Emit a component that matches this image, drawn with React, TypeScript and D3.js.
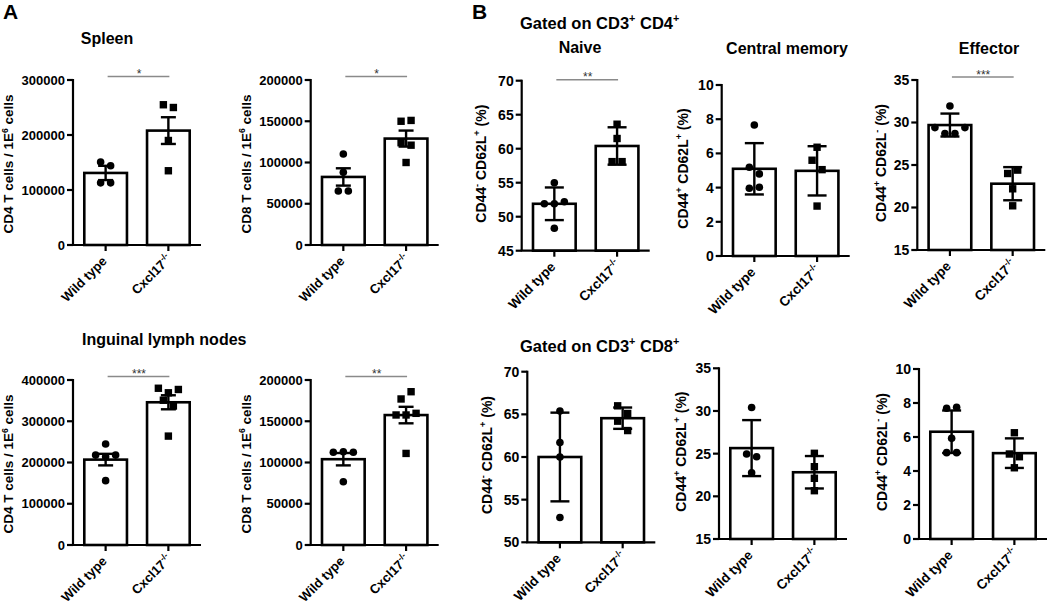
import React from "react";
import * as d3 from "d3";

// ---------- data ----------
const groups = ["Wild type", "Cxcl17"];

// Panel A – Spleen
const spleenCD4WT = [151000, 144000, 113000, 113000];
const spleenCD4KO = [255000, 250000, 190000, 135000];
const spleenCD4Mean = [131000, 208000];
const spleenCD4Err = [13000, 24300];
const spleenCD4Ticks = [0, 100000, 200000, 300000];

const spleenCD8WT = [110300, 88100, 65500, 65500];
const spleenCD8KO = [150000, 151000, 124000, 121000, 100000];
const spleenCD8Mean = [82500, 129000];
const spleenCD8Err = [10500, 9700];
const spleenCD8Ticks = [0, 50000, 100000, 150000, 200000];

// Panel A – Inguinal lymph nodes
const lnCD4WT = [245000, 218000, 214000, 218000, 156000];
const lnCD4KO = [380000, 369000, 377000, 351000, 337000, 264000];
const lnCD4Mean = [207000, 346000];
const lnCD4Err = [14000, 17000];
const lnCD4Ticks = [0, 100000, 200000, 300000, 400000];

const lnCD8WT = [112400, 113100, 112400, 76700];
const lnCD8KO = [177000, 185800, 157600, 157600, 159600, 111000];
const lnCD8Mean = [104000, 157500];
const lnCD8Err = [7500, 10000];
const lnCD8Ticks = [0, 50000, 100000, 150000, 200000];

// Panel B – CD4
const naiveCD4WT = [55.0, 51.9, 51.9, 52.2, 48.3];
const naiveCD4KO = [63.6, 61.5, 58.1, 58.1];
const naiveCD4Mean = [51.9, 60.4];
const naiveCD4Err = [2.4, 2.75];
const naiveCD4Ticks = [45, 50, 55, 60, 65, 70];

const cmCD4WT = [7.66, 5.19, 4.8, 3.96, 4.02];
const cmCD4KO = [6.36, 5.6, 5.05, 2.92];
const cmCD4Mean = [5.1, 4.98];
const cmCD4Err = [1.5, 1.44];
const cmCD4Ticks = [0, 2, 4, 6, 8, 10];

const effCD4WT = [31.94, 29.4, 28.7, 28.7, 29.4];
const effCD4KO = [24.0, 24.4, 22.2, 20.2];
const effCD4Mean = [29.7, 22.8];
const effCD4Err = [1.35, 1.95];
const effCD4Ticks = [15, 20, 25, 30, 35];

// Panel B – CD8
const naiveCD8WT = [65.4, 61.7, 60.0, 52.9];
const naiveCD8KO = [66.0, 65.1, 64.2, 63.1];
const naiveCD8Mean = [60.0, 64.55];
const naiveCD8Err = [5.2, 1.25];
const naiveCD8Ticks = [50, 55, 60, 65, 70];

const cmCD8WT = [30.4, 24.96, 24.64, 22.77];
const cmCD8KO = [25.04, 23.47, 22.11, 20.66];
const cmCD8Mean = [25.65, 22.82];
const cmCD8Err = [3.28, 1.9];
const cmCD8Ticks = [15, 20, 25, 30, 35];

const effCD8WT = [7.69, 7.75, 5.92, 5.08, 5.08];
const effCD8KO = [6.25, 5.0, 4.84, 4.19];
const effCD8Mean = [6.31, 5.05];
const effCD8Err = [1.25, 0.87];
const effCD8Ticks = [0, 2, 4, 6, 8, 10];

type Part = string | [string];
const labelCells: Part[] = ["T cells / 1E", ["6"], " cells"];
const labelNaive: Part[] = ["CD44", ["-"], " CD62L", ["+"], " (%)"];
const labelCM: Part[] = ["CD44", ["+"], " CD62L", ["+"], " (%)"];
const labelEff: Part[] = ["CD44", ["+"], " CD62L", ["-"], " (%)"];

// ---------- rendering ----------
const FONT = "'Liberation Sans', Arial, Helvetica, sans-serif";

function Rich({ parts, fs }: { parts: Part[]; fs: number }) {
  const out: React.ReactNode[] = [];
  let raised = false;
  parts.forEach((p, i) => {
    if (Array.isArray(p)) {
      out.push(
        <tspan key={i} fontSize={fs * 0.65} dy={raised ? 0 : -fs * 0.42}>
          {p[0]}
        </tspan>
      );
      raised = true;
    } else {
      out.push(
        <tspan key={i} dy={raised ? fs * 0.42 : 0}>
          {p}
        </tspan>
      );
      raised = false;
    }
  });
  return <>{out}</>;
}

function swarm(vals: number[], y: (v: number) => number, thresh = 10, spacing = 10) {
  const offs = new Array(vals.length).fill(0);
  let i = 0;
  while (i < vals.length) {
    let j = i + 1;
    while (j < vals.length && Math.abs(y(vals[j]) - y(vals[i])) < thresh) j++;
    const n = j - i;
    for (let k = i; k < j; k++) offs[k] = (k - i - (n - 1) / 2) * spacing;
    i = j;
  }
  return offs;
}

type PanelProps = {
  wt: number[];
  ko: number[];
  mean: number[];
  err: number[];
  ticks: number[];
  ylabel: Part[];
  ax: number;
  top: number;
  bottom: number;
  labelDx: number;
  labelDy: number;
  sig?: string;
  sigDy?: number;
  capW: number;
  tickFs: number;
  xFs: number;
  yFs: number;
};

function Panel(p: PanelProps) {
  const W = 128;
  const x = d3
    .scaleBand<string>()
    .domain(groups)
    .range([p.ax, p.ax + W])
    .paddingInner(0.32)
    .paddingOuter(0.18);
  const dom: [number, number] = [p.ticks[0], p.ticks[p.ticks.length - 1]];
  const y = d3.scaleLinear().domain(dom).range([p.bottom, p.top]);
  const bw = x.bandwidth();
  const fmt = d3.format("d");
  const series = [p.wt, p.ko];
  const cx = (g: string) => (x(g) as number) + bw / 2;
  const c0 = cx(groups[0]);
  const c1 = cx(groups[1]);
  const sigY = p.top + (p.sigDy ?? -3.5);
  return (
    <g>
      {/* bars */}
      {groups.map((g, i) => (
        <rect
          key={g}
          x={x(g)}
          y={y(p.mean[i])}
          width={bw}
          height={p.bottom - y(p.mean[i])}
          fill="#fff"
          stroke="#000"
          strokeWidth={2.6}
        />
      ))}
      {/* error bars */}
      {groups.map((g, i) => {
        const c = cx(g);
        const y1 = y(p.mean[i] + p.err[i]);
        const y2 = y(p.mean[i] - p.err[i]);
        return (
          <g key={g} stroke="#000" strokeWidth={2.4}>
            <line x1={c} x2={c} y1={y1} y2={y2} />
            <line x1={c - p.capW / 2} x2={c + p.capW / 2} y1={y1} y2={y1} />
            <line x1={c - p.capW / 2} x2={c + p.capW / 2} y1={y2} y2={y2} />
          </g>
        );
      })}
      {/* points */}
      {groups.map((g, i) => {
        const vals = series[i];
        const offs = swarm(vals, y);
        const c = cx(g);
        return (
          <g key={g} fill="#000">
            {vals.map((v, k) =>
              i === 0 ? (
                <circle key={k} cx={c + offs[k]} cy={y(v)} r={3.8} />
              ) : (
                <rect key={k} x={c + offs[k] - 3.7} y={y(v) - 3.7} width={7.4} height={7.4} />
              )
            )}
          </g>
        );
      })}
      {/* axes */}
      <g stroke="#000" strokeWidth={2.2}>
        <line x1={p.ax} x2={p.ax} y1={p.top - 1} y2={p.bottom} />
        <line x1={p.ax - 1} x2={p.ax + W} y1={p.bottom} y2={p.bottom} />
        {p.ticks.map((t) => (
          <line key={t} x1={p.ax - 6} x2={p.ax} y1={y(t)} y2={y(t)} />
        ))}
        {groups.map((g) => (
          <line key={g} x1={cx(g)} x2={cx(g)} y1={p.bottom} y2={p.bottom + 6} />
        ))}
      </g>
      <g fontFamily={FONT} fontWeight="bold" fontSize={p.tickFs} textAnchor="end">
        {p.ticks.map((t) => (
          <text key={t} x={p.ax - 8} y={y(t)} dy="0.35em">
            {fmt(t)}
          </text>
        ))}
      </g>
      {/* x labels */}
      <g fontFamily={FONT} fontWeight="bold" fontSize={p.xFs} textAnchor="end">
        <text transform={`translate(${c0 + 2},${p.bottom + 17}) rotate(-45)`}>{groups[0]}</text>
        <text transform={`translate(${c1 + 4},${p.bottom + 15}) rotate(-45)`}>
          <Rich parts={[groups[1], ["-/-"]]} fs={p.xFs} />
        </text>
      </g>
      {/* y label */}
      <text
        fontFamily={FONT}
        fontWeight="bold"
        fontSize={p.yFs}
        textAnchor="middle"
        style={{ whiteSpace: "pre" }}
        transform={`translate(${p.ax - p.labelDx},${(p.top + p.bottom) / 2 + p.labelDy}) rotate(-90)`}
        dy="0.35em"
      >
        <Rich parts={p.ylabel} fs={p.yFs} />
      </text>
      {/* significance */}
      {p.sig ? (
        <g>
          <line x1={c0 + 2} x2={c1 + 1} y1={sigY} y2={sigY} stroke="#8a8a8a" strokeWidth={1.6} />
          <text
            x={(c0 + c1) / 2 + 2}
            y={sigY + 1.5}
            fontFamily={FONT}
            fontSize={12}
            fill="#333"
            textAnchor="middle"
          >
            {p.sig}
          </text>
        </g>
      ) : null}
    </g>
  );
}

const titleStyle = { fontFamily: FONT, fontWeight: "bold" as const, fontSize: 16 };

export default function App() {
  const A = { capW: 15, tickFs: 13, xFs: 13, yFs: 13.5, labelDx: 59.7, labelDy: 1.5 };
  const B = { capW: 19, tickFs: 14, xFs: 13.5, yFs: 14, labelDy: -2 };
  return (
    <svg
      width={1050}
      height={605}
      style={{ position: "absolute", left: 0, top: 0, background: "#fff" }}
    >
      <rect width={1050} height={605} fill="#fff" />
      <text x={3} y={19} fontFamily={FONT} fontWeight="bold" fontSize={21}>A</text>
      <text x={472} y={19} fontFamily={FONT} fontWeight="bold" fontSize={21}>B</text>

      <text x={107} y={43.5} textAnchor="middle" style={titleStyle}>Spleen</text>
      <text x={82} y={344.5} style={titleStyle}>Inguinal lymph nodes</text>
      <text x={520} y={28.5} style={{ ...titleStyle, fontSize: 16.5, whiteSpace: "pre" }}>
        <Rich parts={["Gated on CD3", ["+"], " CD4", ["+"]]} fs={16.5} />
      </text>
      <text x={580} y={53} textAnchor="middle" style={titleStyle}>Naive</text>
      <text x={787} y={54} textAnchor="middle" style={titleStyle}>Central memory</text>
      <text x={989} y={54} textAnchor="middle" style={titleStyle}>Effector</text>
      <text x={520} y={351.5} style={{ ...titleStyle, fontSize: 16.5, whiteSpace: "pre" }}>
        <Rich parts={["Gated on CD3", ["+"], " CD8", ["+"]]} fs={16.5} />
      </text>

      <Panel {...A} wt={spleenCD4WT} ko={spleenCD4KO} mean={spleenCD4Mean} err={spleenCD4Err}
        ticks={spleenCD4Ticks} ylabel={["CD4 ", ...labelCells]} ax={73} top={80} bottom={245} sig="*" />
      <Panel {...A} wt={spleenCD8WT} ko={spleenCD8KO} mean={spleenCD8Mean} err={spleenCD8Err}
        ticks={spleenCD8Ticks} ylabel={["CD8 ", ...labelCells]} ax={310.7} top={80} bottom={245} sig="*" />
      <Panel {...A} wt={lnCD4WT} ko={lnCD4KO} mean={lnCD4Mean} err={lnCD4Err}
        ticks={lnCD4Ticks} ylabel={["CD4 ", ...labelCells]} ax={73} top={380} bottom={545} sig="***" />
      <Panel {...A} wt={lnCD8WT} ko={lnCD8KO} mean={lnCD8Mean} err={lnCD8Err}
        ticks={lnCD8Ticks} ylabel={["CD8 ", ...labelCells]} ax={310.7} top={380} bottom={545} sig="**" />

      <Panel {...B} wt={naiveCD4WT} ko={naiveCD4KO} mean={naiveCD4Mean} err={naiveCD4Err}
        ticks={naiveCD4Ticks} ylabel={labelNaive} ax={521.7} top={80.7} bottom={250.7} labelDx={35.5} sig="**" sigDy={-1} />
      <Panel {...B} wt={cmCD4WT} ko={cmCD4KO} mean={cmCD4Mean} err={cmCD4Err}
        ticks={cmCD4Ticks} ylabel={labelCM} ax={721.7} top={85} bottom={256} labelDx={34} />
      <Panel {...B} wt={effCD4WT} ko={effCD4KO} mean={effCD4Mean} err={effCD4Err}
        ticks={effCD4Ticks} ylabel={labelEff} ax={917.3} top={80} bottom={250} labelDx={31.5} sig="***" sigDy={-3} />

      <Panel {...B} wt={naiveCD8WT} ko={naiveCD8KO} mean={naiveCD8Mean} err={naiveCD8Err}
        ticks={naiveCD8Ticks} ylabel={labelNaive} ax={527.3} top={371.7} bottom={542.3} labelDx={35.5} />
      <Panel {...B} wt={cmCD8WT} ko={cmCD8KO} mean={cmCD8Mean} err={cmCD8Err}
        ticks={cmCD8Ticks} ylabel={labelCM} ax={719} top={368.3} bottom={539} labelDx={33} />
      <Panel {...B} wt={effCD8WT} ko={effCD8KO} mean={effCD8Mean} err={effCD8Err}
        ticks={effCD8Ticks} ylabel={labelEff} ax={919} top={369} bottom={539} labelDx={32} />
    </svg>
  );
}
